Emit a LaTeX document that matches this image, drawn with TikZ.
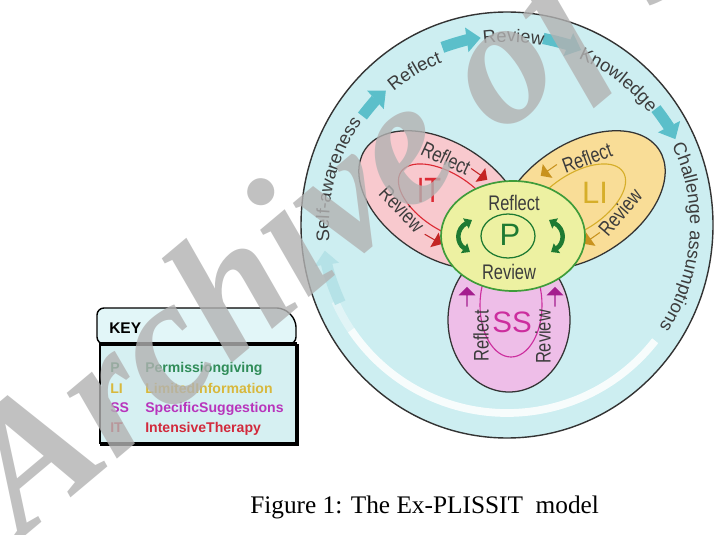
\documentclass[tikz,border=0pt]{standalone}
\usepackage{fontspec}
\setmainfont{Liberation Serif}
\newfontfamily\ringfont{Liberation Sans}
\newfontfamily\petalfont[FakeStretch=0.78]{Liberation Sans}
\usetikzlibrary{arrows.meta,shapes.arrows,decorations.text}

\definecolor{ringfill}{HTML}{CDEEF1}
\definecolor{ringline}{HTML}{333333}
\definecolor{ringgray}{HTML}{3C3C3C}
\definecolor{ringteal}{HTML}{5BBFCA}
\definecolor{itfill}{HTML}{F8C9CE}
\definecolor{itred}{HTML}{DC2A34}
\definecolor{itarrow}{HTML}{C42424}
\definecolor{lifill}{HTML}{F9DD97}
\definecolor{ligold}{HTML}{D6AE2A}
\definecolor{liarrow}{HTML}{C8921E}
\definecolor{ssfill}{HTML}{EEBEE8}
\definecolor{ssmag}{HTML}{CC2E9E}
\definecolor{ssarrow}{HTML}{A41E8E}
\definecolor{pfill}{HTML}{EDF1A2}
\definecolor{pgreen}{HTML}{1E7A32}
\definecolor{pline}{HTML}{3F9C3A}
\definecolor{keyhead}{HTML}{E2F6F8}
\definecolor{keyfill}{HTML}{D6F0F2}
\definecolor{keyP}{HTML}{2F8C58}
\definecolor{keyLI}{HTML}{D8B83C}
\definecolor{keySS}{HTML}{B834BC}
\definecolor{keyIT}{HTML}{D22A3C}

\newcommand\ringtext{\ringfont\fontsize{13}{15}\selectfont\color{ringgray}}

\tikzset{
	petal/.style={draw=ringline, line width=0.9pt},
	petaltext/.style={font=\petalfont\fontsize{15}{15}\selectfont, text=ringgray, inner sep=0pt},
	ringlabel/.style={decorate, decoration={text along path, text align=center, text={|\ringtext|#1}}},
	ringarr/.style={draw=ringteal, line width=8pt, -{Triangle[width=17pt,length=10pt]}},
	blockarr/.style={single arrow, fill=#1, draw=none, inner sep=0pt, minimum width=12pt, minimum height=14pt, single arrow head extend=3pt},
	pcycle/.style={draw=pgreen, line width=3.2pt, {Triangle[width=8pt,length=5pt]}-{Triangle[width=8pt,length=5pt]}},
	keyrow/.style={anchor=base west, inner sep=0pt, font=\ringfont\bfseries\fontsize{10}{10}\selectfont}
}

\begin{document}
\begin{tikzpicture}[x=0.025cm, y=0.025cm]
		\useasboundingbox (0,0) rectangle (714,534);
		\fill[white] (0,0) rectangle (714,534);
		
		% outer circle
		\coordinate (ctr) at (507,309);
		\draw[fill=ringfill, draw=ringline, line width=1pt] (ctr) ellipse [x radius=206, y radius=213];
		\draw[white, line width=5.5pt, opacity=.85] ([shift={(ctr)}]-38:188) arc[start angle=-38, end angle=-146, radius=188];
		\draw[white, line width=5.5pt, opacity=.4] ([shift={(ctr)}]-146:188) arc[start angle=-146, end angle=-156, radius=188];
		\draw[ringarr, draw=ringteal!45] ([shift={(ctr)}]205:184) arc[start angle=205, end angle=188, radius=184];
		
		\draw[ringarr] ([shift={(ctr)}]143:181) arc[start angle=143, end angle=132, radius=181];
		\draw[ringarr] ([shift={(ctr)}]110:189) arc[start angle=110, end angle=98, radius=189];
		\draw[ringarr] ([shift={(ctr)}]79:190) arc[start angle=79, end angle=67, radius=190];
		\draw[ringarr] ([shift={(ctr)}]38:189) arc[start angle=38, end angle=27, radius=189];
		
		\path[ringlabel={Self-awareness}] ([shift={(ctr)}]200:178) arc[start angle=200, end angle=130, radius=178];
		\path[ringlabel={Reflect}] ([shift={(ctr)}]141:175) arc[start angle=141, end angle=101, radius=175];
		\path[ringlabel={Review}] ([shift={(ctr)}]108:183) arc[start angle=108, end angle=68, radius=183];
		\path[ringlabel={Knowledge}] ([shift={(ctr)}]75:181) arc[start angle=75, end angle=30, radius=181];
		\path[ringlabel={Challenge assumptions}] ([shift={(ctr)}]40:183) arc[start angle=40, end angle=-48, radius=183];
		
		% petals
		\draw[petal, fill=itfill, rotate around={-33:(442,334)}] (442,334) ellipse [x radius=92, y radius=57];
		\draw[petal, fill=lifill, rotate around={33:(582,334)}] (582,334) ellipse [x radius=92, y radius=57];
		\draw[itred, line width=0.8pt, rotate around={-33:(447,332)}] (447,332) ellipse [x radius=55, y radius=28];
		\draw[ligold, line width=0.8pt, rotate around={33:(577,332)}] (577,332) ellipse [x radius=55, y radius=28];
		\draw[petal, fill=ssfill] (509,214) ellipse [x radius=61, y radius=72];
		\draw[ssmag, line width=0.8pt] (511,229) ellipse [x radius=31, y radius=52];
		
		\node[font=\petalfont\fontsize{25}{25}\selectfont, text=itred] (it) at (429,344) {IT};
		\node[font=\ringfont\fontsize{22}{22}\selectfont, text=ligold] (li) at (595,341) {LI};
		\node[font=\ringfont\fontsize{21}{21}\selectfont, text=ssmag] (ss) at (512,212) {SS};
		
		\node[petaltext, rotate=-25] (itreflect) at (446,376) {Reflect};
		\node[petaltext, rotate=-46] (itreview) at (402,325) {Review};
		\node[petaltext, rotate=20] (lireflect) at (587,376) {Reflect};
		\node[petaltext, rotate=49] (lireview) at (620,322) {Review};
		\node[petaltext, rotate=90] (ssreflect) at (481,198) {Reflect};
		\node[petaltext, rotate=90] (ssreview) at (543,197) {Review};
		
		\node[blockarr=itarrow, rotate=-35] (itarrA) at (479,360) {};
		\node[blockarr=itarrow, rotate=-30] (itarrB) at (433,295) {};
		\node[blockarr=liarrow, rotate=215] (liarrA) at (549,364) {};
		\node[blockarr=liarrow, rotate=215] (liarrB) at (592,296) {};
		\node[blockarr=ssarrow, rotate=90] (ssarrA) at (467,237) {};
		\node[blockarr=ssarrow, rotate=90] (ssarrB) at (555,237) {};
		
		% centre
		\draw[fill=pfill, draw=pline, line width=1.2pt] (513,298) ellipse [x radius=72, y radius=55];
		\draw[pgreen, line width=0.9pt] (508,298) ellipse [x radius=27, y radius=22];
		\node[font=\ringfont\fontsize{22}{22}\selectfont, text=pgreen] (p) at (510,299) {P};
		\node[petaltext] (preflect) at (514,331) {Reflect};
		\node[petaltext] (preview) at (509,262) {Review};
		\draw[pcycle] (472,314) .. controls (456,305) and (456,291) .. (470,282);
		\draw[pcycle] (549,314) .. controls (565,305) and (565,291) .. (551,282);
		
		% key
		\draw[fill=keyhead, line width=1pt, rounded corners=5pt] (97,190) -- (97,226) -- (284,226) -- (296,214) -- (296,190) -- cycle;
		\draw[fill=keyfill, line width=1pt] (100,91) rectangle (296,190);
		\draw[line width=3pt] (99,190) -- (297,190);
		\draw[line width=2.2pt] (297,190) -- (297,90) -- (100,90);
		\node[anchor=base west, inner sep=0pt, font=\ringfont\bfseries\fontsize{11}{11}\selectfont] (key) at (109,201) {KEY};
		\node[keyrow, text=keyP] (kp) at (110,162) {P};
		\node[keyrow, text=keyP] (kpt) at (145,162) {Permissiongiving};
		\node[keyrow, text=keyLI] (kli) at (110,141) {LI};
		\node[keyrow, text=keyLI] (klit) at (145,141) {LimitedInformation};
		\node[keyrow, text=keySS] (kss) at (110,122) {SS};
		\node[keyrow, text=keySS] (ksst) at (145,122) {SpecificSuggestions};
		\node[keyrow, text=keyIT] (kit) at (110,102) {IT};
		\node[keyrow, text=keyIT] (kitt) at (145,102) {IntensiveTherapy};
		
		\node[anchor=base west, inner sep=0pt, font=\fontsize{18}{18}\selectfont] (caption) at (250,21) {Figure 1: The Ex-PLISSIT\ \ model};
		
		\node[anchor=base west, inner sep=0pt, rotate=40, text=black!30, opacity=.8, font=\bfseries\itshape\fontsize{128}{128}\selectfont] (mark) at (22,-5) {Archive of SID};

	\end{tikzpicture}
\end{document}
